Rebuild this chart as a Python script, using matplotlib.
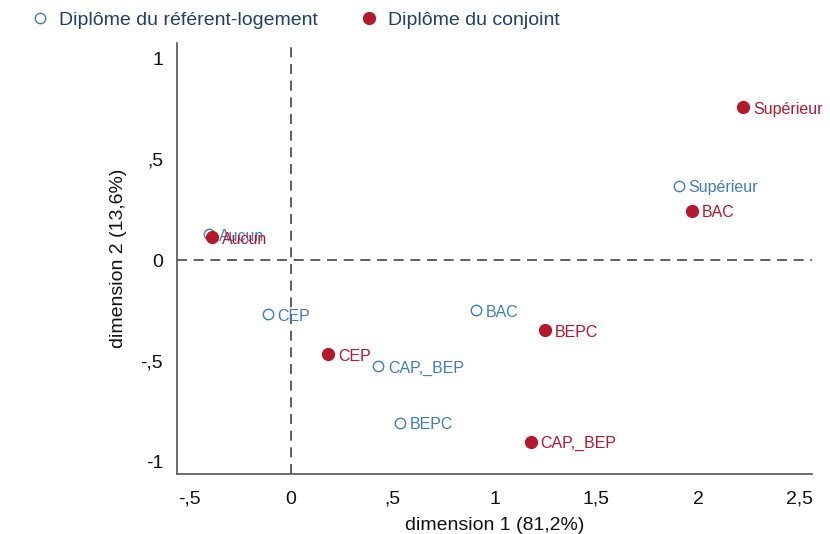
import matplotlib
matplotlib.use("Agg")
import matplotlib.pyplot as plt
from matplotlib.lines import Line2D

plt.rcParams['font.family'] = ['Liberation Sans', 'DejaVu Sans']

categories_ref = ["Aucun", "CEP", "BAC", "CAP,_BEP", "BEPC", "Supérieur"]
ref_x = [-0.404, -0.113, 0.911, 0.429, 0.537, 1.906]
ref_y = [0.127, -0.268, -0.248, -0.527, -0.806, 0.368]

categories_conj = ["Aucun", "CEP", "BEPC", "CAP,_BEP", "BAC", "Supérieur"]
conj_x = [-0.389, 0.182, 1.246, 1.177, 1.970, 2.222]
conj_y = [0.113, -0.468, -0.348, -0.900, 0.244, 0.756]

xticks = [-0.5, 0, 0.5, 1, 1.5, 2, 2.5]
xticklabels = ["-,5", "0", ",5", "1", "1,5", "2", "2,5"]
yticks = [-1, -0.5, 0, 0.5, 1]
yticklabels = ["-1", "-,5", "0", ",5", "1"]

blue = "#3f7cc2"
red = "#b5172b"
legend_color = "#1f416b"

fig = plt.figure(figsize=(8.3, 5.34), dpi=100)
ax = fig.add_axes([0.2133, 0.1124, 0.765, 0.807])

ax.axhline(0, color="#444444", lw=1.2, ls=(0, (6, 4)), zorder=1)
ax.axvline(0, color="#444444", lw=1.2, ls=(0, (6, 4)), zorder=1)

ax.plot(ref_x, ref_y, ls="none", marker="o", ms=7.5, mfc="white", mec=blue, mew=1.0, zorder=3)
ax.plot(conj_x, conj_y, ls="none", marker="o", ms=8.5, mfc=red, mec=red, mew=1.0, zorder=3)

for lab, x, y in zip(categories_ref, ref_x, ref_y):
    ax.annotate(lab, (x, y), xytext=(7, -1.5), textcoords="offset points",
                color=blue, fontsize=11.5, va="center", ha="left", zorder=4)
for lab, x, y in zip(categories_conj, conj_x, conj_y):
    ax.annotate(lab, (x, y), xytext=(7, -1.5), textcoords="offset points",
                color=red, fontsize=11.5, va="center", ha="left", zorder=4)

ax.set_xlim(-0.56, 2.56)
ax.set_ylim(-1.06, 1.075)
ax.set_xticks(xticks)
ax.set_xticklabels(xticklabels)
ax.set_yticks(yticks)
ax.set_yticklabels(yticklabels)
ax.tick_params(axis="x", length=0, labelsize=14, pad=12, colors="#111111")
ax.tick_params(axis="y", length=0, labelsize=14, pad=10, colors="#111111")

for s in ["top", "right"]:
    ax.spines[s].set_visible(False)
for s in ["left", "bottom"]:
    ax.spines[s].set_color("#555555")
    ax.spines[s].set_linewidth(1.2)

ax.set_xlabel("dimension 1 (81,2%)", fontsize=14, color="#111111", labelpad=7)
ax.set_ylabel("dimension 2 (13,6%)", fontsize=14, color="#111111", labelpad=10)

handles = [
    Line2D([], [], ls="none", marker="o", ms=7.5, mfc="white", mec=blue, mew=1.0),
    Line2D([], [], ls="none", marker="o", ms=8.5, mfc=red, mec=red),
]
leg = fig.legend(handles, ["Diplôme du référent-logement", "Diplôme du conjoint"],
                 ncol=2, loc="center left", bbox_to_anchor=(0.015, 0.963),
                 frameon=False, fontsize=14, handletextpad=0.5, columnspacing=2.1,
                 handlelength=1.0)
for t in leg.get_texts():
    t.set_color(legend_color)

fig.savefig("out.png", dpi=100)
